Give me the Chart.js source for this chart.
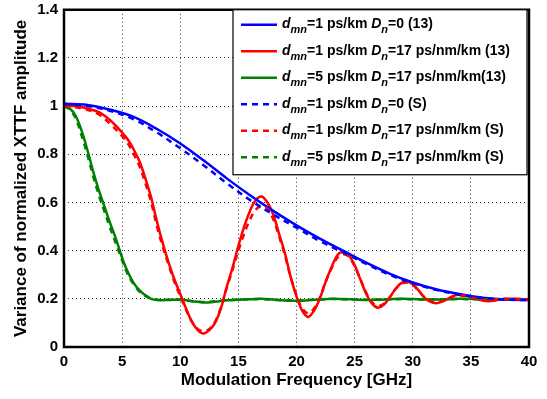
<!DOCTYPE html>
<html lang="en">
<head>
    <meta charset="UTF-8">
    <title>XTTF variance vs modulation frequency</title>
    <script src="https://cdn.jsdelivr.net/npm/chart.js"></script>
    <style>
        body {
            margin: 0;
            padding: 0;
            background: #ffffff;
        }

        .container {
            width: 547px;
            height: 399px;
        }
    </style>
</head>
<body>
    <div class="container">
        <canvas id="chart" width="547" height="399"></canvas>
    </div>

    <script>
        // Blue curves (D_n = 0)
        const freqBlue = [0, 2, 4, 6, 8, 10, 12, 14, 16, 18, 20, 22, 24, 26, 28, 30, 32, 34, 36, 38, 40];
        const blueModel = [1.01, 1.005, 0.985, 0.955, 0.905, 0.845, 0.775, 0.7, 0.63, 0.565, 0.505, 0.45, 0.40, 0.35, 0.305, 0.268, 0.24, 0.22, 0.205, 0.197, 0.195];
        const blueSim = [1.01, 1.0, 0.98, 0.945, 0.89, 0.825, 0.755, 0.68, 0.61, 0.55, 0.495, 0.44, 0.393, 0.345, 0.3, 0.265, 0.237, 0.218, 0.204, 0.197, 0.195];

        // Red curves (d_mn = 1, D_n = 17)
        const freqRed = [0, 1, 2, 3, 4, 5, 5.5, 6, 6.5, 7, 7.5, 8, 8.5, 9, 9.5, 10, 10.5, 11, 11.5, 12, 12.5, 13, 13.5, 14, 14.5, 15, 15.5, 16, 16.5, 17, 17.5, 18, 18.5, 19, 19.5, 20, 20.5, 21, 21.5, 22, 22.5, 23, 23.5, 24, 24.5, 25, 25.5, 26, 26.5, 27, 27.5, 28, 28.5, 29, 29.5, 30, 30.5, 31, 31.5, 32, 32.5, 33, 33.5, 34, 34.5, 35, 35.5, 36, 36.5, 37, 37.5, 38, 39, 40];
        const redModel = [1.0, 1.0, 0.99, 0.975, 0.94, 0.89, 0.86, 0.82, 0.77, 0.7, 0.62, 0.52, 0.43, 0.35, 0.28, 0.22, 0.16, 0.105, 0.07, 0.056, 0.07, 0.1, 0.16, 0.25, 0.33, 0.42, 0.5, 0.565, 0.61, 0.625, 0.6, 0.55, 0.47, 0.39, 0.29, 0.21, 0.15, 0.125, 0.15, 0.2, 0.27, 0.33, 0.38, 0.395, 0.38, 0.34, 0.28, 0.22, 0.18, 0.163, 0.175, 0.205, 0.24, 0.265, 0.272, 0.26, 0.235, 0.205, 0.188, 0.182, 0.188, 0.2, 0.212, 0.217, 0.215, 0.208, 0.2, 0.193, 0.19, 0.192, 0.197, 0.2, 0.2, 0.195];
        const redSim = [1.0, 0.995, 0.985, 0.965, 0.925, 0.875, 0.845, 0.8, 0.75, 0.68, 0.6, 0.5, 0.415, 0.34, 0.27, 0.21, 0.155, 0.105, 0.075, 0.065, 0.075, 0.105, 0.165, 0.245, 0.32, 0.4, 0.47, 0.53, 0.57, 0.585, 0.575, 0.53, 0.46, 0.38, 0.29, 0.215, 0.16, 0.14, 0.16, 0.205, 0.27, 0.325, 0.37, 0.385, 0.375, 0.335, 0.28, 0.225, 0.185, 0.17, 0.18, 0.205, 0.24, 0.262, 0.268, 0.258, 0.233, 0.207, 0.19, 0.185, 0.19, 0.2, 0.21, 0.214, 0.212, 0.206, 0.2, 0.195, 0.193, 0.195, 0.198, 0.2, 0.198, 0.195];

        // Green curves (d_mn = 5, D_n = 17)
        const freqGreen = [0, 0.5, 1, 1.5, 2, 2.5, 3, 3.5, 4, 4.5, 5, 5.5, 6, 6.5, 7, 7.5, 8, 9, 10, 11, 12, 13, 14, 15, 16, 17, 18, 19, 20, 21, 22, 23, 24, 25, 26, 27, 28, 29, 30, 31, 32, 33, 34, 36, 38, 40];
        const greenModel = [1.0, 0.99, 0.96, 0.9, 0.82, 0.73, 0.65, 0.58, 0.51, 0.445, 0.37, 0.31, 0.265, 0.235, 0.215, 0.2, 0.195, 0.195, 0.197, 0.19, 0.185, 0.188, 0.194, 0.196, 0.198, 0.2, 0.197, 0.193, 0.192, 0.194, 0.197, 0.2, 0.199, 0.197, 0.195, 0.196, 0.198, 0.2, 0.199, 0.197, 0.197, 0.198, 0.2, 0.199, 0.198, 0.198];
        const greenSim = [1.0, 0.985, 0.95, 0.88, 0.8, 0.71, 0.63, 0.56, 0.49, 0.425, 0.36, 0.3, 0.26, 0.23, 0.212, 0.2, 0.196, 0.196, 0.196, 0.191, 0.187, 0.19, 0.194, 0.197, 0.198, 0.199, 0.196, 0.194, 0.193, 0.195, 0.197, 0.199, 0.198, 0.197, 0.196, 0.197, 0.198, 0.199, 0.198, 0.197, 0.197, 0.198, 0.199, 0.198, 0.198, 0.198];

        // Legend text pieces: n = normal, i = italic, s = italic subscript
        const legendLabels = [
            [['d', 'i'], ['mn', 's'], ['=1 ps/km ', 'n'], ['D', 'i'], ['n', 's'], ['=0 (13)', 'n']],
            [['d', 'i'], ['mn', 's'], ['=1 ps/km ', 'n'], ['D', 'i'], ['n', 's'], ['=17 ps/nm/km (13)', 'n']],
            [['d', 'i'], ['mn', 's'], ['=5 ps/km ', 'n'], ['D', 'i'], ['n', 's'], ['=17 ps/nm/km(13)', 'n']],
            [['d', 'i'], ['mn', 's'], ['=1 ps/km ', 'n'], ['D', 'i'], ['n', 's'], ['=0 (S)', 'n']],
            [['d', 'i'], ['mn', 's'], ['=1 ps/km ', 'n'], ['D', 'i'], ['n', 's'], ['=17 ps/nm/km (S)', 'n']],
            [['d', 'i'], ['mn', 's'], ['=5 ps/km ', 'n'], ['D', 'i'], ['n', 's'], ['=17 ps/nm/km (S)', 'n']]
        ];

        const FONT = "'Liberation Sans', Arial, sans-serif";

        function toPoints(xs, ys) {
            return xs.map((x, i) => ({ x: x, y: ys[i] }));
        }

        function series(xs, ys, color, dashed) {
            return {
                data: toPoints(xs, ys),
                borderColor: color,
                backgroundColor: color,
                borderWidth: 2.5,
                borderDash: dashed ? [6, 5] : [],
                pointRadius: 0,
                tension: 0.35,
                fill: false,
                order: dashed ? 0 : 1
            };
        }

        // frame box + legend with subscripts
        const matlabLegend = {
            id: 'matlabLegend',
            afterDatasetsDraw(chart) {
                const ctx = chart.ctx;
                const area = chart.chartArea;
                const datasets = chart.data.datasets;

                ctx.save();
                ctx.strokeStyle = '#000';
                ctx.lineWidth = 2.5;
                ctx.strokeRect(area.left, area.top, area.right - area.left, area.bottom - area.top);

                const boxW = 294, boxH = 165;
                const bx = area.right - boxW - 2, by = area.top;
                ctx.fillStyle = '#fff';
                ctx.fillRect(bx, by, boxW, boxH);
                ctx.lineWidth = 1.2;
                ctx.strokeRect(bx, by, boxW, boxH);

                ctx.textBaseline = 'alphabetic';
                legendLabels.forEach((parts, i) => {
                    const ds = datasets[i];
                    const ly = by + 15 + i * 26.5;
                    ctx.beginPath();
                    ctx.strokeStyle = ds.borderColor;
                    ctx.lineWidth = 2.5;
                    ctx.setLineDash(ds.borderDash);
                    ctx.moveTo(bx + 8, ly);
                    ctx.lineTo(bx + 44, ly);
                    ctx.stroke();
                    ctx.setLineDash([]);

                    let tx = bx + 49;
                    const base = ly + 3.5;
                    ctx.fillStyle = '#000';
                    parts.forEach(([txt, kind]) => {
                        if (kind === 's') {
                            ctx.font = 'italic bold 11px ' + FONT;
                            ctx.fillText(txt, tx, base + 5);
                        } else {
                            ctx.font = (kind === 'i' ? 'italic ' : '') + 'bold 14px ' + FONT;
                            ctx.fillText(txt, tx, base);
                        }
                        tx += ctx.measureText(txt).width;
                    });
                });
                ctx.restore();
            }
        };

        const ctx = document.getElementById('chart').getContext('2d');
        new Chart(ctx, {
            type: 'line',
            data: {
                datasets: [
                    series(freqBlue, blueModel, '#0000ff', false),
                    series(freqRed, redModel, '#ff0000', false),
                    series(freqGreen, greenModel, '#008000', false),
                    series(freqBlue, blueSim, '#0000ff', true),
                    series(freqRed, redSim, '#ff0000', true),
                    series(freqGreen, greenSim, '#008000', true)
                ]
            },
            options: {
                responsive: false,
                animation: false,
                layout: {
                    padding: { left: 0, right: 18, top: 5, bottom: 0 }
                },
                plugins: {
                    legend: { display: false },
                    tooltip: { enabled: false }
                },
                scales: {
                    x: {
                        type: 'linear',
                        min: 0,
                        max: 40,
                        ticks: {
                            stepSize: 5,
                            color: '#000',
                            padding: 6,
                            font: { family: FONT, size: 15, weight: 'bold' }
                        },
                        grid: { color: '#333', lineWidth: 1, drawTicks: false },
                        border: { display: false, dash: [1, 3] },
                        title: {
                            display: true,
                            text: 'Modulation Frequency [GHz]',
                            color: '#000',
                            padding: { top: 0, bottom: 8 },
                            font: { family: FONT, size: 17, weight: 'bold' }
                        },
                        afterFit(scale) { scale.height = 52; }
                    },
                    y: {
                        min: 0,
                        max: 1.4,
                        ticks: {
                            stepSize: 0.2,
                            color: '#000',
                            padding: 6,
                            font: { family: FONT, size: 15, weight: 'bold', lineHeight: 0.5 },
                            callback: (v) => String(Math.round(v * 10) / 10)
                        },
                        grid: { color: '#333', lineWidth: 1, drawTicks: false },
                        border: { display: false, dash: [1, 3] },
                        title: {
                            display: true,
                            text: 'Variance of normalized XTTF amplitude',
                            color: '#000',
                            padding: { top: 11, bottom: 0 },
                            font: { family: FONT, size: 17, weight: 'bold' }
                        },
                        afterFit(scale) { scale.width = 64; }
                    }
                }
            },
            plugins: [matlabLegend]
        });
    </script>
</body>
</html>
